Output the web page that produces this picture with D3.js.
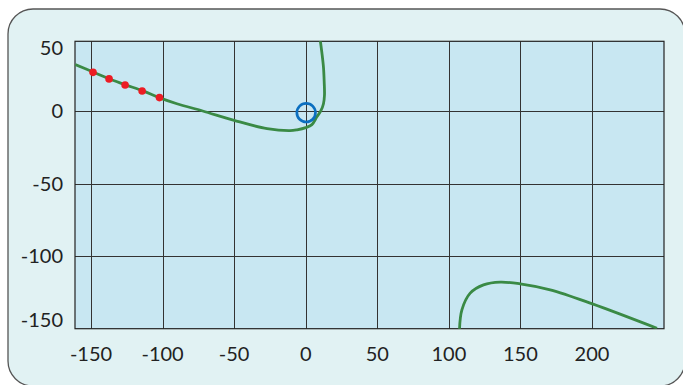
<!DOCTYPE html>
<html><head><meta charset="utf-8">
<script src="https://cdn.jsdelivr.net/npm/d3@7"></script>
<style>html,body{margin:0;padding:0;background:#fff;}svg{display:block;}</style>
</head><body>
<svg id="chart" width="683" height="385"></svg>
<script>
const xTicks = [-150, -100, -50, 0, 50, 100, 150, 200];
const yTicks = [50, 0, -50, -100, -150];
// upper-left branch of the curve
const branchAx = [-161, -149, -137, -126, -114, -102, -90, -72, -50, -27, -11, -6, 0, 4.3, 7.8, 10.5, 12.4, 13.1, 12.9, 12.4, 11.3, 10.1];
const branchAy = [32, 27, 22, 18, 14, 9, 5, 0, -6.5, -12.2, -13.6, -13, -11.5, -9.4, -4, 0, 5, 11, 20, 30, 40, 49];
// lower-right branch
const branchBx = [107.4, 109.1, 114.9, 124.2, 135.9, 149.8, 170.8, 200.3, 245.4];
const branchBy = [-151, -137, -125.5, -119.8, -117.9, -119.1, -123.2, -132.9, -149.7];
// red sample points
const redX = [-148.6, -137.4, -126.2, -114.3, -102.2];
const redY = [26.6, 22.1, 17.9, 13.8, 9.2];
// origin marker
const markX = [0.3];
const markY = [-1.2];

(function () {
const svg = d3.select("#chart");
const pL = 75, pR = 664, pT = 41.3, pB = 328.7;
const x = d3.scaleLinear().domain([-161.2, 250.3]).range([pL, pR]);
const y = d3.scaleLinear().domain([-150, 48]).range([pB, pT]);

// card
svg.append("rect").attr("x", 8).attr("y", 9).attr("width", 677).attr("height", 377)
  .attr("rx", 25).attr("ry", 25)
  .attr("fill", "#e1f2f3").attr("stroke", "#555").attr("stroke-width", 1.3);

// plot background
svg.append("rect").attr("x", pL).attr("y", pT).attr("width", pR - pL).attr("height", pB - pT)
  .attr("fill", "#c8e7f2");

svg.append("defs").append("clipPath").attr("id", "clip")
  .append("rect").attr("x", pL).attr("y", pT).attr("width", pR - pL).attr("height", pB - pT);

// grid
const g = svg.append("g");
g.selectAll(".vx").data(xTicks).enter().append("line")
  .attr("x1", d => Math.round(x(d)) + 0.5).attr("x2", d => Math.round(x(d)) + 0.5)
  .attr("y1", pT).attr("y2", pB).attr("stroke", "#333").attr("stroke-width", 1);
g.selectAll(".hy").data(yTicks.filter(v => v > -150 && v < 48)).enter().append("line")
  .attr("y1", d => Math.round(y(d)) + 0.5).attr("y2", d => Math.round(y(d)) + 0.5)
  .attr("x1", pL).attr("x2", pR).attr("stroke", "#333").attr("stroke-width", 1);
svg.append("rect").attr("x", pL).attr("y", pT).attr("width", pR - pL).attr("height", pB - pT)
  .attr("fill", "none").attr("stroke", "#222").attr("stroke-width", 1.2);

// curves
const line = d3.line().x(d => x(d[0])).y(d => y(d[1])).curve(d3.curveCatmullRom.alpha(0.5));
const cg = svg.append("g").attr("clip-path", "url(#clip)");
cg.append("path").datum(branchAx.map((v, i) => [v, branchAy[i]]))
  .attr("d", line).attr("fill", "none").attr("stroke", "#3a8a45").attr("stroke-width", 2.8);
cg.append("path").datum(branchBx.map((v, i) => [v, branchBy[i]]))
  .attr("d", line).attr("fill", "none").attr("stroke", "#3a8a45").attr("stroke-width", 2.8);

// red points
cg.selectAll(".rp").data(redX.map((v, i) => [v, redY[i]])).enter().append("circle")
  .attr("cx", d => x(d[0])).attr("cy", d => y(d[1])).attr("r", 3.8).attr("fill", "#ec1c24");

// origin marker
cg.selectAll(".om").data(markX.map((v, i) => [v, markY[i]])).enter().append("circle")
  .attr("cx", d => x(d[0])).attr("cy", d => y(d[1])).attr("r", 9.3)
  .attr("fill", "none").attr("stroke", "#0b6fc0").attr("stroke-width", 2.7);

// axis labels
const font = "Lato, 'Open Sans', sans-serif";
svg.selectAll(".xl").data(xTicks).enter().append("text")
  .attr("x", d => x(d)).attr("y", 361)
  .attr("text-anchor", "middle").attr("font-family", font).attr("font-size", 20).attr("fill", "#222")
  .text(d => d);
svg.selectAll(".yl").data(yTicks).enter().append("text")
  .attr("x", 63)
  .attr("y", d => {
    const p = y(Math.max(-150, Math.min(48, d)));
    return p + 7 + (d >= 48 ? 7 : 0) + (d <= -150 ? -9 : 0);
  })
  .attr("text-anchor", "end").attr("font-family", font).attr("font-size", 20).attr("fill", "#222")
  .text(d => d);
})();
</script>
</body></html>
